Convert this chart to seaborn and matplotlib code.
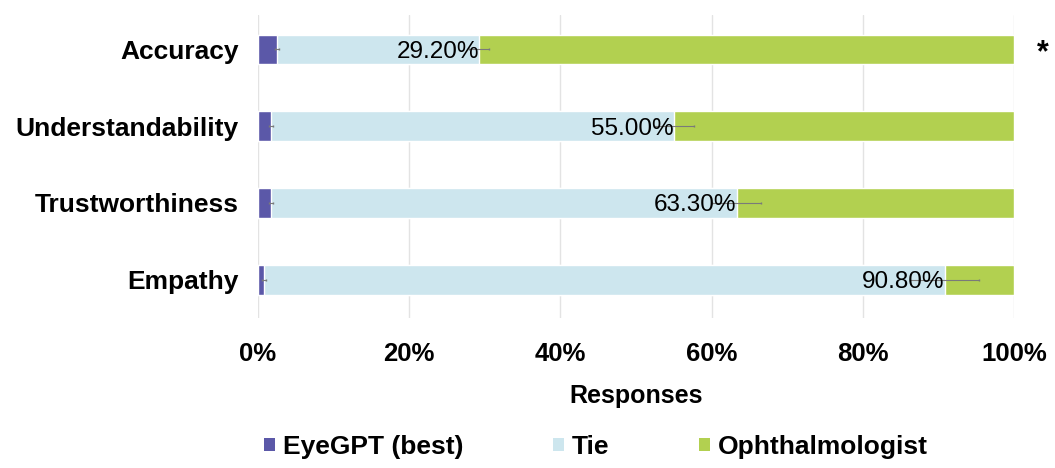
import numpy as np
import pandas as pd
import matplotlib
matplotlib.use("Agg")
import matplotlib.pyplot as plt
import seaborn as sns
from matplotlib.patches import Patch

categories = ["Accuracy", "Understandability", "Trustworthiness", "Empathy"]
eyegpt = [2.5, 1.7, 1.7, 0.8]
tie = [26.7, 53.3, 61.6, 90.0]
eyegpt_err = [0.3, 0.3, 0.3, 0.3]
tie_err = [1.3, 2.6, 3.2, 4.6]
series = ["EyeGPT (best)", "Tie", "Ophthalmologist"]
colors = ["#5B58A8", "#CDE6EE", "#B2D050"]

sns.set_theme(style="white")
plt.rcParams["font.family"] = ["Liberation Sans", "DejaVu Sans"]
plt.rcParams["text.color"] = "black"
plt.rcParams["xtick.color"] = "black"
plt.rcParams["ytick.color"] = "black"
plt.rcParams["axes.labelcolor"] = "black"

df = pd.DataFrame({"category": categories, "eyegpt": eyegpt, "tie": tie})
df["cum_tie"] = df["eyegpt"] + df["tie"]
df["total"] = 100.0

fig = plt.figure(figsize=(10.55, 4.68), dpi=100)
ax = fig.add_axes([0.2446, 0.3205, 0.7166, 0.6475])

# stacked look: draw cumulative totals on top of each other
sns.barplot(data=df, x="total", y="category", color=colors[2], width=0.39,
            saturation=1, ax=ax, zorder=2)
sns.barplot(data=df, x="cum_tie", y="category", color=colors[1], width=0.39,
            saturation=1, ax=ax, zorder=2)
sns.barplot(data=df, x="eyegpt", y="category", color=colors[0], width=0.39,
            saturation=1, ax=ax, zorder=2)

ypos = np.arange(len(categories))
ax.errorbar(df["cum_tie"], ypos, xerr=tie_err, fmt="none", ecolor="#7a7a7a",
            elinewidth=0.8, capsize=1, zorder=3)
ax.errorbar(df["eyegpt"], ypos, xerr=eyegpt_err, fmt="none", ecolor="#7a7a7a",
            elinewidth=0.8, capsize=1, zorder=3)

for y, v in zip(ypos, df["cum_tie"]):
    ax.text(v, y, f"{v:.2f}%", ha="right", va="center_baseline",
            fontsize=17.5, color="black", zorder=4)

ax.text(103.8, 0, "*", ha="center", va="center_baseline", fontsize=22,
        fontweight="bold")

ax.set_xlim(0, 100)
ax.set_ylim(3.5, -0.45)
ax.set_xticks(range(0, 101, 20))
ax.set_xticklabels([f"{t}%" for t in range(0, 101, 20)], fontsize=18.5,
                   fontweight="bold")
ax.set_yticks(ypos)
ax.set_yticklabels(categories, fontsize=19, fontweight="bold")
ax.tick_params(axis="x", pad=17, length=0)
ax.tick_params(axis="y", pad=14, length=0)
ax.set_xlabel("Responses", fontsize=18, fontweight="bold", labelpad=13)
ax.set_ylabel("")
ax.grid(axis="x", color="#e3e3e3", linewidth=1, zorder=0)
ax.set_axisbelow(True)
sns.despine(ax=ax, left=True, bottom=True)

handles = [Patch(facecolor=c, edgecolor="none") for c in colors]
fig.legend(handles, series, loc="center", bbox_to_anchor=(0.565, 0.045),
           ncol=3, frameon=False, handlelength=0.42, handleheight=0.42,
           handletextpad=0.3, columnspacing=3.4, borderpad=0,
           prop={"size": 19, "weight": "bold"})

fig.savefig("out.png", dpi=100)
